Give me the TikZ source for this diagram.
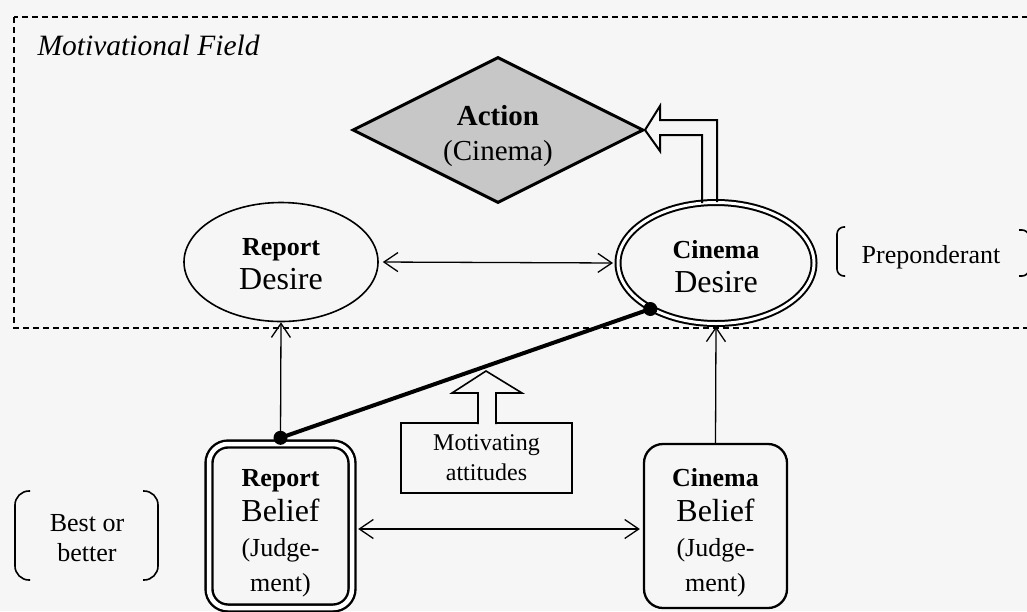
\documentclass[tikz,border=0pt]{standalone}
\usepackage{fontspec}
\setmainfont{Liberation Serif}
\usetikzlibrary{shapes.geometric,arrows.meta,calc}
\definecolor{bgcol}{gray}{0.965}
\definecolor{diafill}{gray}{0.78}
\begin{document}
\begin{tikzpicture}[x=1pt,y=-1pt,
  tip/.tip={Straight Barb[length=14pt,width=19pt,line width=1.3pt]},
  conn/.style={line width=1.3pt,-tip},
  dconn/.style={line width=1.3pt,tip-tip},
  brk/.style={line width=1.6pt,rounded corners=#1},
  txt/.style={font=\fontsize{26}{30}\selectfont},
  bel/.style={draw,rounded corners=19pt,minimum width=143pt,minimum height=164pt,inner sep=0pt,align=center,font=\fontsize{26}{35}\selectfont},
  des/.style={ellipse,draw,inner sep=0pt,align=center,font=\fontsize{32}{34}\selectfont},
]
\useasboundingbox (0,0) rectangle (1027,611);
\fill[bgcol] (0,0) rectangle (1027,611);
\begin{scope}
\clip (0,0) rectangle (1027,611);
% motivational field frame
\draw[line width=1.3pt,dash pattern=on 6pt off 4pt] (14,17) rectangle (1040,328);
\node[anchor=base west,font=\fontsize{29.5}{30}\selectfont\itshape] (mf) at (34,55) {Motivational Field};

% action diamond
\node[diamond,draw,line width=3pt,fill=diafill,aspect=2,minimum width=291pt,minimum height=146pt,inner sep=0pt,align=center,font=\fontsize{29}{35}\selectfont] (action) at (498,130)
  {\rule{0pt}{33pt}{\bfseries Action}\\(Cinema)};

% desires
\node[des,line width=1.6pt,minimum width=194pt,minimum height=119pt] (rdes) at (281,262)
  {\rule{0pt}{22pt}{\fontsize{26}{34}\selectfont\bfseries Report}\\Desire};
\node[des,double,double distance=3pt,line width=2pt,minimum width=196pt,minimum height=121pt] (cdes) at (716,263)
  {\rule{0pt}{26pt}{\fontsize{26}{34}\selectfont\bfseries Cinema}\\Desire};

% hollow arrow to action
\draw[line width=2pt] (717,202) -- (717,120) -- (660,120) -- (660,106) -- (action.east)
  -- (660,151) -- (660,135) -- (702,135) -- (702,203);

% preponderant
\node[txt] (prep) at (931,257) {Preponderant};
\draw[brk=7pt] (845,227) -- (837,227) -- (837,276) -- (845,276);
\draw[brk=7pt] (1019,230) -- (1029,230) -- (1029,276) -- (1019,276);

% beliefs
\node[bel,double,double distance=4.5pt,line width=2.4pt] (rbel) at (280.5,526)
  {\rule{0pt}{32pt}{\bfseries Report}\\{\fontsize{32}{35}\selectfont Belief}\\(Judge-\\ment)};
\node[bel,line width=2.3pt] (cbel) at (715.5,526)
  {\rule{0pt}{32pt}{\bfseries Cinema}\\{\fontsize{32}{35}\selectfont Belief}\\(Judge-\\ment)};

% connectors
\draw[conn] ([yshift=4pt]rbel.north) -- (rdes.south);
\draw[conn] (cbel.north) -- ([yshift=-2pt]cdes.south);
\draw[dconn,shorten <=4pt,shorten >=4pt] (rdes.east) -- (cdes.west);
\draw[dconn,shorten <=5pt,shorten >=3pt] ([yshift=-3pt]rbel.east) -- ([yshift=-3pt]cbel.west);

% motivating attitudes
\node[draw,line width=1.6pt,minimum width=171pt,minimum height=70pt,inner sep=0pt,align=center,font=\fontsize{24}{30}\selectfont] (mot) at (486.5,458) {Motivating\\attitudes};
\fill[bgcol] (478,425) -- (478,393) -- (452,393) -- (486,371) -- (522,393) -- (496,393) -- (496,425) -- cycle;
\draw[line width=1.6pt] (478,424) -- (478,393) -- (452,393) -- (486,371) -- (522,393) -- (496,393) -- (496,424);

% thick line with dots
\coordinate (d1) at ([yshift=5pt]rbel.north);
\coordinate (d2) at (cdes.215);
\draw[line width=4pt] (d1) -- (d2);
\fill (d1) circle (7pt);
\fill (d2) circle (7pt);

% best or better
\node[txt,align=center] (best) at (87,538) {Best or\\better};
\draw[brk=14pt] (30,491) -- (15,491) -- (15,580) -- (30,580);
\draw[brk=14pt] (143,491) -- (158,491) -- (158,580) -- (143,580);
\end{scope}
\end{tikzpicture}
\end{document}
